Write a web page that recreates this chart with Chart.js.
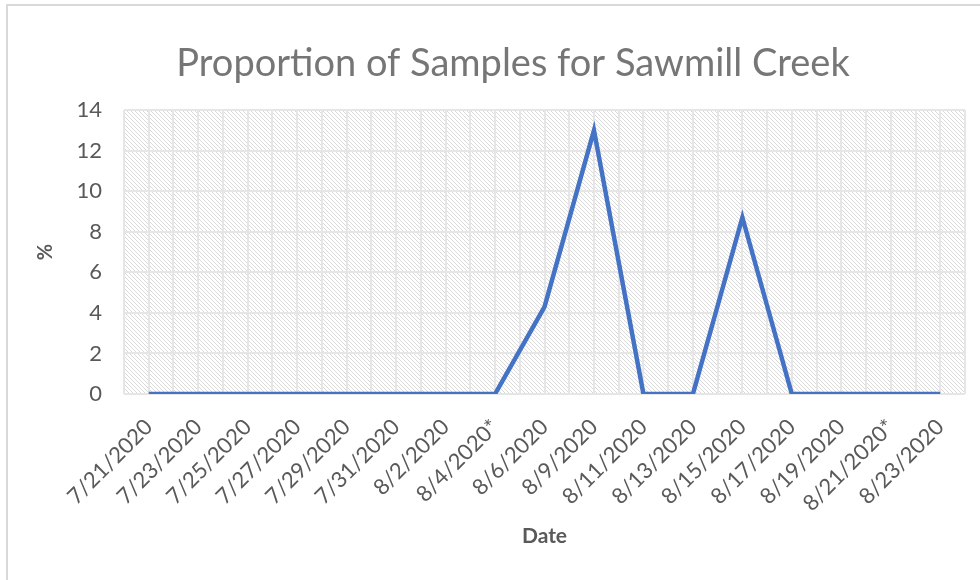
<!DOCTYPE html>
<html>
<head>
<meta charset="utf-8">
<script src="https://cdn.jsdelivr.net/npm/chart.js@4.4.0/dist/chart.umd.min.js"></script>
<style>
  html, body { margin: 0; padding: 0; background: #ffffff; }
  #wrap { position: relative; width: 980px; height: 580px; }
</style>
</head>
<body>
<div id="wrap"><canvas id="c" width="980" height="580"></canvas></div>
<script>
// ---- data ----
const chartTitle = 'Proportion of Samples for Sawmill Creek';
const categories = ['7/21/2020', '7/23/2020', '7/25/2020', '7/27/2020', '7/29/2020', '7/31/2020',
  '8/2/2020', '8/4/2020*', '8/6/2020', '8/9/2020', '8/11/2020', '8/13/2020', '8/15/2020',
  '8/17/2020', '8/19/2020', '8/21/2020*', '8/23/2020'];
const proportions = [0, 0, 0, 0, 0, 0, 0, 0, 4.3, 13.0, 0, 0, 8.7, 0, 0, 0, 0];
const yMin = 0, yMax = 14, yStep = 2;
const xTitle = 'Date';
const yTitle = '%';

// ---- styling helpers ----
const FONT = 'Lato, "Open Sans", sans-serif';
const TEXT = '#595959';
const GRID = '#e6e6e6';

function makeHatch() {
  const p = document.createElement('canvas');
  p.width = 4; p.height = 4;
  const g = p.getContext('2d');
  g.fillStyle = '#ffffff';
  g.fillRect(0, 0, 4, 4);
  g.fillStyle = '#dadada';
  for (let i = 0; i < 4; i++) g.fillRect(i, i, 1, 1);
  return p;
}

const framePlugin = {
  id: 'frame',
  beforeDraw(chart) {
    const ctx = chart.ctx;
    const a = chart.chartArea;
    ctx.save();
    ctx.fillStyle = '#ffffff';
    ctx.fillRect(0, 0, chart.width, chart.height);
    // outer chart frame
    ctx.strokeStyle = '#d9d9d9';
    ctx.lineWidth = 2;
    ctx.beginPath();
    ctx.moveTo(7, chart.height);
    ctx.lineTo(7, 5);
    ctx.lineTo(chart.width, 5);
    ctx.stroke();
    // hatched plot area
    ctx.fillStyle = ctx.createPattern(makeHatch(), 'repeat');
    ctx.fillRect(a.left, a.top, a.right - a.left, a.bottom - a.top);
    // title
    ctx.fillStyle = '#767676';
    ctx.font = '38px ' + FONT;
    ctx.textAlign = 'center';
    ctx.textBaseline = 'alphabetic';
    ctx.fillText(chartTitle, 513, 76);
    ctx.restore();
  }
};

new Chart(document.getElementById('c'), {
  type: 'line',
  data: {
    labels: categories,
    datasets: [{
      data: proportions,
      borderColor: '#4472C4',
      backgroundColor: '#4472C4',
      borderWidth: 4.5,
      pointRadius: 0,
      pointHoverRadius: 0,
      tension: 0,
      fill: false,
      borderJoinStyle: 'miter'
    }]
  },
  options: {
    responsive: false,
    animation: false,
    events: [],
    layout: { padding: { top: 110, left: 8, right: 15, bottom: 0 } },
    plugins: {
      legend: { display: false },
      tooltip: { enabled: false },
      title: { display: false }
    },
    scales: {
      x: {
        type: 'category',
        offset: true,
        grid: { display: false },
        border: { display: false },
        ticks: {
          color: TEXT,
          font: { family: FONT, size: 22 },
          maxRotation: 45,
          minRotation: 45,
          autoSkip: false,
          padding: 12
        },
        title: {
          display: true,
          text: xTitle,
          color: TEXT,
          font: { family: FONT, size: 21, weight: 'bold' },
          padding: { top: 0, bottom: 31 }
        },
        afterFit(scale) { scale.height = 186; }
      },
      xGrid: {
        type: 'linear',
        position: 'bottom',
        min: -0.5,
        max: categories.length - 0.5,
        grid: { color: GRID, lineWidth: 2, drawTicks: false },
        border: { display: false },
        ticks: { display: false, stepSize: 0.5, maxTicksLimit: 200 },
        afterFit(scale) { scale.height = 0; }
      },
      y: {
        min: yMin,
        max: yMax,
        grid: { color: GRID, lineWidth: 2, drawTicks: false },
        border: { display: false },
        ticks: {
          stepSize: yStep,
          color: TEXT,
          font: { family: FONT, size: 22 },
          padding: 22
        },
        title: {
          display: true,
          text: yTitle,
          color: TEXT,
          font: { family: FONT, size: 20, weight: 'bold' },
          padding: { top: 26, bottom: 0 }
        },
        afterFit(scale) { scale.width = 116; }
      }
    }
  },
  plugins: [framePlugin]
});
</script>
</body>
</html>
